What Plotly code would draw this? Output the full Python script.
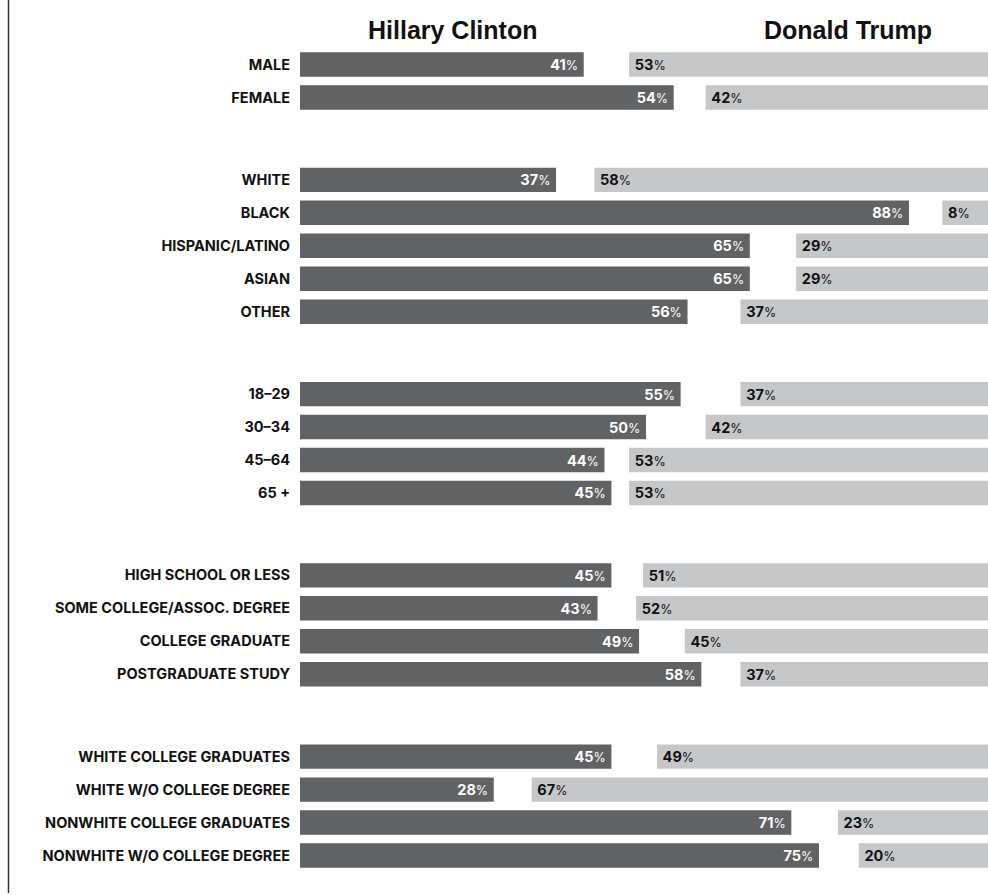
import plotly.graph_objects as go

# ---- data ----
categories = [
    "MALE", "FEMALE",
    "WHITE", "BLACK", "HISPANIC/LATINO", "ASIAN", "OTHER",
    "18–29", "30–34", "45–64", "65 +",
    "HIGH SCHOOL OR LESS", "SOME COLLEGE/ASSOC. DEGREE", "COLLEGE GRADUATE", "POSTGRADUATE STUDY",
    "WHITE COLLEGE GRADUATES", "WHITE W/O COLLEGE DEGREE", "NONWHITE COLLEGE GRADUATES", "NONWHITE W/O COLLEGE DEGREE",
]
group_ids = [0, 0, 1, 1, 1, 1, 1, 2, 2, 2, 2, 3, 3, 3, 3, 4, 4, 4, 4]
clinton = [41, 54, 37, 88, 65, 65, 56, 55, 50, 44, 45, 45, 43, 49, 58, 45, 28, 71, 75]
trump = [53, 42, 58, 8, 29, 29, 37, 37, 42, 53, 53, 51, 52, 45, 37, 49, 67, 23, 20]
candidates = ["Hillary Clinton", "Donald Trump"]

# ---- layout helpers ----
GROUP_GAP = 1.5
positions = [i + GROUP_GAP * g for i, g in enumerate(group_ids)]

DARK = "#616264"
LIGHT = "#c6c7c9"
LABEL_FONT = "Inter"


def pct_label(v, lead="", trail=""):
    return (f"{lead}<b>{v}</b><span style='font-size:12.5px;font-weight:400'>%</span>{trail}")


fig = go.Figure()

fig.add_trace(go.Bar(
    y=positions, x=clinton, base=0, orientation="h",
    marker=dict(color=DARK, line=dict(width=0)),
    width=0.74,
    text=[pct_label(v, trail="\u2009") for v in clinton],
    textposition="inside", insidetextanchor="end", textangle=0,
    insidetextfont=dict(family=LABEL_FONT, size=14.5, color="#ffffff"),
    xaxis="x", yaxis="y", hoverinfo="skip", name=candidates[0],
))

fig.add_trace(go.Bar(
    y=positions, x=trump, base=0, orientation="h",
    marker=dict(color=LIGHT, line=dict(width=0)),
    width=0.74,
    text=[pct_label(v, lead="\u2009") for v in trump],
    textposition="inside", insidetextanchor="end", textangle=0,
    insidetextfont=dict(family=LABEL_FONT, size=14.5, color="#111111"),
    xaxis="x2", yaxis="y", hoverinfo="skip", name=candidates[1],
))

fig.update_layout(
    width=988, height=895,
    margin=dict(l=300, r=0, t=48, b=23),
    paper_bgcolor="white", plot_bgcolor="white",
    showlegend=False, barmode="overlay",
    xaxis=dict(range=[0, 99.42], visible=False, fixedrange=True),
    xaxis2=dict(range=[100.29, 1.437], overlaying="x", visible=False, fixedrange=True),
    yaxis=dict(
        range=[positions[-1] + 0.5, -0.5],
        tickvals=positions, ticktext=categories,
        ticks="", showgrid=False, zeroline=False, showline=False,
        ticklabelstandoff=9, fixedrange=True,
        tickfont=dict(family=LABEL_FONT, size=14.5, color="#111111", weight=700),
    ),
    annotations=[
        dict(text=f"<b>{candidates[0]}</b>", xref="paper", yref="paper", x=0.2217, y=1.0222,
             xanchor="center", yanchor="middle", showarrow=False,
             font=dict(family="Liberation Sans", size=25, color="#111111")),
        dict(text=f"<b>{candidates[1]}</b>", xref="paper", yref="paper", x=0.7965, y=1.0222,
             xanchor="center", yanchor="middle", showarrow=False,
             font=dict(family="Liberation Sans", size=25, color="#111111")),
    ],
    shapes=[
        dict(type="line", xref="paper", yref="paper", x0=-0.4237, x1=-0.4237, y0=1.07, y1=-0.0255,
             line=dict(color="#333333", width=1.5)),
    ],
)

fig.write_html(
    "out.html",
    config={"displayModeBar": False},
    post_script="document.body.style.margin='0';document.body.style.overflow='hidden';",
)
